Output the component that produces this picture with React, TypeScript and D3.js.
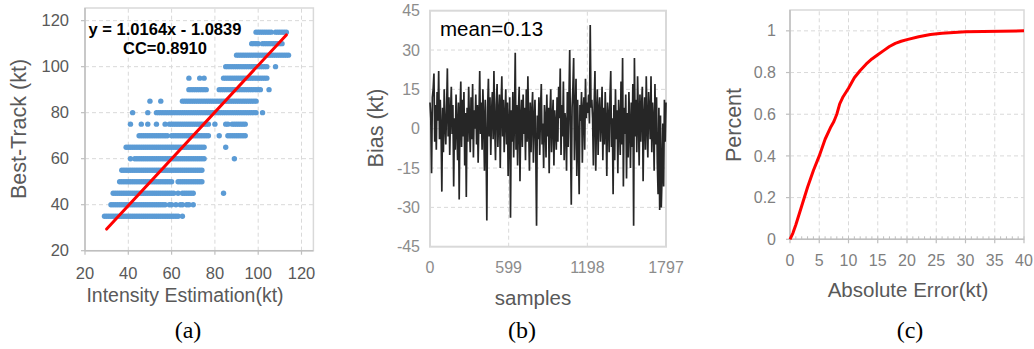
import React from "react";
import * as d3 from "d3";

// ---------- Panel (a) data ----------
const scatterLevels = [35, 40, 45, 50, 55, 60, 65, 70, 75, 80, 85, 90, 95, 100, 105, 110, 115];
const scatterXs: number[][] = [
  [29,30,31,32,33,34,35,36,37,38,39,40,41,42,43,44,45,46,47,48,49,50,51,52,53,54,55,56,57,58,59,60,61,62,63,65],
  [32,33,34,35,36,37,38,39,40,41,42,43,44,45,46,47,48,49,50,51,52,53,54,55,56,57,59,60,62,64,65,67,68,70],
  [33,34,35,36,37,38,39,40,41,42,43,44,45,46,47,48,49,50,51,52,53,54,55,56,57,58,59,60,61,63,65,66,67,68,69,70,84],
  [36,37,38,39,40,41,42,43,44,45,46,47,48,49,50,51,52,53,54,55,56,57,58,59,60,63,64,65,66,67,68,69,70,71,72,73,74],
  [37,38,39,40,41,42,43,44,45,46,47,48,49,50,51,52,53,54,55,56,57,58,59,60,61,62,63,64,65,66,67,68,69,70,71,72,73,74],
  [41,43,44,45,46,47,48,49,50,51,52,53,54,55,56,57,58,59,60,61,62,63,64,65,66,67,68,69,70,71,72,73,74,75,89],
  [39,40,41,42,43,44,45,46,47,48,49,50,51,52,53,54,55,56,57,58,59,60,61,62,63,64,65,66,67,68,69,70,71,72,73,74,75,85],
  [45,46,47,48,49,50,51,52,53,54,55,56,57,58,60,61,62,63,64,65,66,67,68,69,70,71,72,73,74,75,76,77,82,86,87,88,89,90,91,92,93,94],
  [41,46,49,53,57,59,60,61,62,63,64,65,66,67,68,69,70,71,72,73,74,75,76,77,80,85,86,88,89,90,91,92,93,94],
  [42,49,53,54,55,56,57,58,59,60,61,62,63,64,65,66,67,68,69,70,71,72,73,74,75,76,77,78,79,80,81,82,83,84,85,86,87,88,89,90,91,92,93,94,95,96,97,98,99,102],
  [50,55,65,66,67,68,69,70,71,72,73,74,75,76,77,78,79,80,81,82,83,84,85,86,87,88,89,90,91,92,93,94,95,96,97,98,99],
  [68,69,70,71,72,73,74,75,76,82,83,84,85,86,87,88,89,90,91,92,93,94,95,96,97,98,99,100,101,105],
  [68,73,75,84,85,86,87,88,89,90,91,92,93,94,95,96,97,98,99,100,101,102,103,104],
  [85,86,87,88,89,90,91,92,93,94,95,96,97,98,99,100,101,102,103,104,108],
  [90,91,92,93,94,95,96,97,98,99,100,101,102,103,104,105,106,107,108,109,110,111,112,113,114],
  [97,98,99,100,102,103,104,105,106,107,108,109,110,111],
  [99,100,101,102,103,104,105,106,108,109,110,111,112,113],
];
const fitX = [30, 113];
const fitY = [29.4, 113.8];
const aTicks = [20, 40, 60, 80, 100, 120];

// ---------- Panel (b) data ----------
const biasValues = [
  10, 4, -17, 12, 15, 21, -5, 9, -8, 14, 3, 22, -4, 11, 0, -24, 8, -9, 15, 2,
  -6, 7, 23, -3, 12, -10, 6, 16, -2, 9, -22, 4, -8, 13, 1, -12, 10, -27, 5, 18,
  -7, 11, -3, 14, -14, 6, -26, 8, -5, 16, 2, -9, 12, -4, 17, -11, 7, 0, 13, -6,
  9, -13, 4, 22, -2, 10, -8, 15, 3, -16, 11, -5, -35, 8, 19, -3, 12, -10, 6, 14,
  -4, 22, 1, -12, 9, 17, -7, 5, 13, -15, 8, 20, -3, 11, -9, 4, 15, -6, 10, -18,
  2, 12, -34, 7, -5, 14, -11, 3, 29, -8, 9, -14, 6, 16, -20, 4, 11, -7, 13, -2,
  8, -12, 15, -5, 20, 1, -16, 10, -9, 6, 14, -13, 3, 11, -8, -37, 5, -4, 12, -10,
  7, 17, -6, 2, -15, 9, 4, -11, 13, -3, 8, -17, 6, 15, -9, 3, 11, -14, 7, 1,
  -8, 12, -5, 16, 4, 23, -10, 9, -3, 18, -12, 6, 2, -16, 14, -7, 10, 30, -4, -29,
  8, 15, 27, -12, 5, 19, -18, 11, -6, -25, 9, 3, 14, -13, 7, 12, -8, 19, 4, 10,
  6, 13, 2, 39.5, 8, 11, 4, -14, 9, 22, -16, 5, 15, -10, 7, 12, -5, 3, 16, -12,
  8, -6, 14, 2, -18, 10, 5, -9, 12, 22, -7, 4, -25, 9, -12, 15, -4, 7, -17, 11,
  3, -10, 18, -6, 27, -22, 8, -2, 13, -19, 6, -11, 14, 1, -15, 10, -7, 17, -37, 27,
  -3, 11, -9, 20, 5, -14, 13, -5, 8, 16, -20, 4, 12, -8, 20, 2, -11, 14, 6, -4,
  20, -9, 10, 3, -16, 17, -6, 12, -13, -25, 8, -31, 5, -30, -18, 2, -22, 11, -5, 10,
];
const biasSampleMax = 1797;
const bYTicks = [45, 30, 15, 0, -15, -30, -45];
const bXTicks = [0, 599, 1198, 1797];

// ---------- Panel (c) data ----------
const cdfX = [0, 0.5, 1, 2, 3, 4, 5, 6, 7, 7.5, 8, 8.5, 9, 10, 11, 12, 13, 14, 15, 16, 17, 18, 19, 20, 22, 24, 26, 28, 30, 33, 36, 40];
const cdfY = [0, 0.03, 0.07, 0.16, 0.25, 0.33, 0.40, 0.48, 0.54, 0.565, 0.60, 0.65, 0.68, 0.725, 0.775, 0.81, 0.84, 0.865, 0.885, 0.905, 0.925, 0.94, 0.95, 0.958, 0.972, 0.982, 0.988, 0.992, 0.996, 0.997, 0.998, 1];
const cYTicks = [0, 0.2, 0.4, 0.6, 0.8, 1];
const cXTicks = [0, 5, 10, 15, 20, 25, 30, 35, 40];

const SANS = "'Liberation Sans', Arial, Helvetica, sans-serif";
const SERIF = "'Liberation Serif', 'Times New Roman', serif";
const GRID = "#d9d9d9";
const BORDER = "#d9d9d9";

export default function App() {
  // scales
  const xA = d3.scaleLinear().domain([20, 125.5]).range([85, 313.4]);
  const yA = d3.scaleLinear().domain([20, 125.5]).range([250.7, 8]);
  const xB = d3.scaleLinear().domain([0, biasSampleMax]).range([430, 666]);
  const yB = d3.scaleLinear().domain([-45, 45]).range([246.7, 10.7]);
  const xC = d3.scaleLinear().domain([0, 40]).range([790, 1024]);
  const yC = d3.scaleLinear().domain([0, 1.1]).range([239.3, 10]);

  const fitLine = d3.line<number>().x((_, i) => xA(fitX[i])).y((_, i) => yA(fitY[i]));
  const biasLine = d3
    .line<number>()
    .x((_, i) => xB((i * biasSampleMax) / (biasValues.length - 1)))
    .y((d) => yB(d));
  const cdfLine = d3.line<number>().x((_, i) => xC(cdfX[i])).y((_, i) => yC(cdfY[i]));

  const points: { x: number; y: number }[] = [];
  scatterLevels.forEach((lv, i) => scatterXs[i].forEach((x) => points.push({ x, y: lv })));

  const minor = d3.range(0, 41);

  return (
    <svg width={1034} height={349} style={{ position: "absolute", left: 0, top: 0, background: "#fff" }}>
      <rect x={0} y={0} width={1034} height={349} fill="#fff" />
      {/* ================= Panel (a) ================= */}
      <g>
        {aTicks.filter((t) => t > 20).map((t) => (
          <line key={"agx" + t} x1={xA(t)} x2={xA(t)} y1={yA(20)} y2={yA(125.5)} stroke={GRID} strokeDasharray="4,3" />
        ))}
        {aTicks.filter((t) => t > 20).map((t) => (
          <line key={"agy" + t} x1={xA(20)} x2={xA(125.5)} y1={yA(t)} y2={yA(t)} stroke={GRID} strokeDasharray="4,3" />
        ))}
        <rect x={xA(20)} y={yA(125.5)} width={xA(125.5) - xA(20)} height={yA(20) - yA(125.5)} fill="none" stroke={BORDER} strokeWidth={1.5} />
        <line x1={xA(20)} x2={xA(20)} y1={yA(20)} y2={yA(125.5)} stroke="#bfbfbf" strokeWidth={1.5} />
        <line x1={xA(20)} x2={xA(125.5)} y1={yA(20)} y2={yA(20)} stroke="#bfbfbf" strokeWidth={1.5} />
        {aTicks.map((t) => (
          <line key={"atx" + t} x1={xA(t)} x2={xA(t)} y1={yA(20)} y2={yA(20) + 4} stroke="#bfbfbf" strokeWidth={1.2} />
        ))}
        {aTicks.map((t) => (
          <line key={"aty" + t} x1={xA(20) - 4} x2={xA(20)} y1={yA(t)} y2={yA(t)} stroke="#bfbfbf" strokeWidth={1.2} />
        ))}
        {points.map((p, i) => (
          <circle key={"p" + i} cx={xA(p.x)} cy={yA(p.y)} r={2.7} fill="#5b9bd5" />
        ))}
        <path d={fitLine(fitX) || ""} stroke="#ff0000" strokeWidth={3} fill="none" strokeLinecap="round" />
        {aTicks.map((t) => (
          <text key={"aly" + t} x={xA(20) - 16} y={yA(t)} dy="0.35em" textAnchor="end" fontFamily={SANS} fontSize={16.5} fill="#595959">
            {t}
          </text>
        ))}
        {aTicks.map((t) => (
          <text key={"alx" + t} x={xA(t)} y={279} textAnchor="middle" fontFamily={SANS} fontSize={16.5} fill="#595959">
            {t}
          </text>
        ))}
        <text x={165} y={35} textAnchor="middle" fontFamily={SANS} fontWeight="bold" fontSize={16.5} fill="#000">
          y = 1.0164x - 1.0839
        </text>
        <text x={165} y={54} textAnchor="middle" fontFamily={SANS} fontWeight="bold" fontSize={16.5} fill="#000">
          CC=0.8910
        </text>
        <text transform="translate(26,129) rotate(-90)" textAnchor="middle" fontFamily={SANS} fontSize={21.5} fill="#595959">
          Best-Track (kt)
        </text>
        <text x={185} y={302} textAnchor="middle" fontFamily={SANS} fontSize={19.5} fill="#595959">
          Intensity Estimation(kt)
        </text>
        <text x={188} y={338} textAnchor="middle" fontFamily={SERIF} fontSize={24} fill="#000">
          (a)
        </text>
      </g>

      {/* ================= Panel (b) ================= */}
      <g>
        {bYTicks.filter((t) => t !== 45 && t !== -45).map((t) => (
          <line key={"bgy" + t} x1={xB(0)} x2={xB(biasSampleMax)} y1={yB(t)} y2={yB(t)} stroke={GRID} strokeDasharray="4,3" />
        ))}
        {bXTicks.filter((t) => t !== 0 && t !== biasSampleMax).map((t) => (
          <line key={"bgx" + t} x1={xB(t)} x2={xB(t)} y1={yB(-45)} y2={yB(45)} stroke={GRID} strokeDasharray="4,3" />
        ))}
        <rect x={xB(0)} y={yB(45)} width={xB(biasSampleMax) - xB(0)} height={yB(-45) - yB(45)} fill="none" stroke={BORDER} strokeWidth={2} />
        <path d={biasLine(biasValues) || ""} stroke="#262626" strokeWidth={1.7} fill="none" strokeLinejoin="miter" />
        {bYTicks.map((t) => (
          <text key={"bly" + t} x={xB(0) - 10} y={yB(t)} dy="0.35em" textAnchor="end" fontFamily={SANS} fontSize={16} fill="#8c8c8c">
            {t}
          </text>
        ))}
        {bXTicks.map((t) => (
          <text key={"blx" + t} x={xB(t)} y={273} textAnchor="middle" fontFamily={SANS} fontSize={16} fill="#8c8c8c">
            {t}
          </text>
        ))}
        <text x={440} y={36} fontFamily={SANS} fontSize={20.5} fill="#000">
          mean=0.13
        </text>
        <text transform="translate(383,128) rotate(-90)" textAnchor="middle" fontFamily={SANS} fontSize={21.5} fill="#595959">
          Bias (kt)
        </text>
        <text x={533} y={305} textAnchor="middle" fontFamily={SANS} fontSize={20.5} fill="#595959">
          samples
        </text>
        <text x={522} y={338} textAnchor="middle" fontFamily={SERIF} fontSize={24} fill="#000">
          (b)
        </text>
      </g>

      {/* ================= Panel (c) ================= */}
      <g>
        {cXTicks.filter((t) => t !== 0 && t !== 40).map((t) => (
          <line key={"cgx" + t} x1={xC(t)} x2={xC(t)} y1={yC(0)} y2={yC(1.1)} stroke={GRID} strokeDasharray="4,3" />
        ))}
        {cYTicks.filter((t) => t !== 0).map((t) => (
          <line key={"cgy" + t} x1={xC(0)} x2={xC(40)} y1={yC(t)} y2={yC(t)} stroke={GRID} strokeDasharray="4,3" />
        ))}
        <rect x={xC(0)} y={yC(1.1)} width={xC(40) - xC(0)} height={yC(0) - yC(1.1)} fill="none" stroke={BORDER} strokeWidth={1.5} />
        <line x1={xC(0)} x2={xC(40)} y1={yC(0)} y2={yC(0)} stroke="#bfbfbf" strokeWidth={1.5} />
        <line x1={xC(0)} x2={xC(0)} y1={yC(0)} y2={yC(1.1)} stroke="#bfbfbf" strokeWidth={1.5} />
        {minor.map((t) => (
          <line key={"cm" + t} x1={xC(t)} x2={xC(t)} y1={yC(0) - 3} y2={yC(0)} stroke="#bfbfbf" strokeWidth={1} />
        ))}
        {cXTicks.map((t) => (
          <line key={"ctx" + t} x1={xC(t)} x2={xC(t)} y1={yC(0)} y2={yC(0) + 4} stroke="#bfbfbf" strokeWidth={1.2} />
        ))}
        {cYTicks.map((t) => (
          <line key={"cty" + t} x1={xC(0) - 4} x2={xC(0)} y1={yC(t)} y2={yC(t)} stroke="#bfbfbf" strokeWidth={1.2} />
        ))}
        <path d={cdfLine(cdfX) || ""} stroke="#ff0000" strokeWidth={3} fill="none" strokeLinejoin="round" />
        {cYTicks.map((t) => (
          <text key={"cly" + t} x={xC(0) - 14} y={yC(t)} dy="0.35em" textAnchor="end" fontFamily={SANS} fontSize={16} fill="#7f7f7f">
            {t}
          </text>
        ))}
        {cXTicks.map((t) => (
          <text key={"clx" + t} x={xC(t)} y={266} textAnchor="middle" fontFamily={SANS} fontSize={16} fill="#7f7f7f">
            {t}
          </text>
        ))}
        <text transform="translate(741,125) rotate(-90)" textAnchor="middle" fontFamily={SANS} fontSize={21.5} fill="#595959">
          Percent
        </text>
        <text x={908} y={297} textAnchor="middle" fontFamily={SANS} fontSize={20.5} fill="#595959">
          Absolute Error(kt)
        </text>
        <text x={910} y={338} textAnchor="middle" fontFamily={SERIF} fontSize={24} fill="#000">
          (c)
        </text>
      </g>
    </svg>
  );
}
